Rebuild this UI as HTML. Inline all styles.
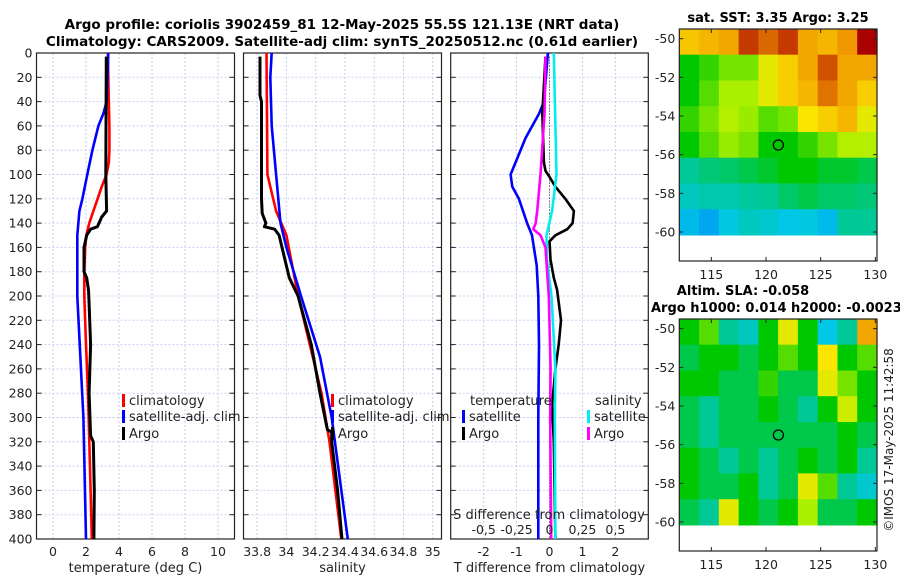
<!DOCTYPE html>
<html><head><meta charset="utf-8"><style>
body{margin:0;background:#fff;}
svg{display:block;font-family:"DejaVu Sans","Liberation Sans",sans-serif;}
</style></head><body>
<svg id="c" width="900" height="580" viewBox="0 0 900 580">
<text x="342" y="29" text-anchor="middle" font-size="13.5" font-weight="bold">Argo profile: coriolis 3902459_81 12-May-2025 55.5S 121.13E (NRT data)</text>
<text x="342" y="46" text-anchor="middle" font-size="13.5" font-weight="bold">Climatology: CARS2009. Satellite-adj clim: synTS_20250512.nc (0.61d earlier)</text>
<text x="778" y="22" text-anchor="middle" font-size="13" font-weight="bold">sat. SST: 3.35 Argo: 3.25</text>
<text x="743" y="295" text-anchor="middle" font-size="13" font-weight="bold">Altim. SLA: -0.058</text>
<text x="651" y="312" font-size="13" font-weight="bold">Argo h1000: 0.014 h2000: -0.0023</text>
<text transform="translate(893,440) rotate(-90)" text-anchor="middle" font-size="12" fill="#222">©IMOS 17-May-2025 11:42:58</text>
</svg>
<script>
// ---------- data ----------
const depthTicks=[0,20,40,60,80,100,120,140,160,180,200,220,240,260,280,300,320,340,360,380,400];
const tTicks=[0,2,4,6,8,10];
const sTicks=[33.8,34,34.2,34.4,34.6,34.8,35];
const sTickLabels=["33.8","34","34.2","34.4","34.6","34.8","35"];
const dTicks=[-2,-1,0,1,2];
const sdTicks=[-0.5,-0.25,0,0.25,0.5];
const sdTickLabels=["-0,5","-0,25","0","0,25","0,5"];

const climTDepth=[0,20,40,60,80,90,100,110,120,130,140,150,160,180,200,240,280,320,360,400];
const climT=[3.33,3.35,3.38,3.42,3.42,3.38,3.25,2.95,2.7,2.45,2.2,2.02,1.95,1.9,1.9,2.0,2.12,2.2,2.28,2.35];
const satTDepth=[0,40,50,60,80,100,120,130,150,200,300,400];
const satT=[3.35,3.25,3.05,2.75,2.39,2.08,1.78,1.6,1.47,1.47,1.84,2.0];
const argoTDepth=[3,100,130,135,143,145,150,160,180,185,195,200,240,280,315,320,360,400];
const argoT=[3.23,3.2,3.25,2.95,2.69,2.28,2.04,1.88,1.88,2.04,2.15,2.17,2.28,2.19,2.28,2.44,2.5,2.48];

const climSDepth=[0,100,130,150,200,280,320,400];
const climS=[33.864,33.87,33.93,34.0,34.08,34.24,34.295,34.375];
const satSDepth=[0,20,60,100,140,160,200,250,300,400];
const satS=[33.90,33.89,33.90,33.93,33.96,34.0,34.1,34.23,34.31,34.42];
const argoSDepth=[3,35,40,120,132,140,143,145,150,170,185,200,240,280,310,312,320,360,400];
const argoS=[33.82,33.82,33.83,33.83,33.835,33.86,33.85,33.92,33.95,33.99,34.02,34.08,34.17,34.23,34.28,34.31,34.31,34.35,34.38];

const dSatTDepth=[0,40,50,70,90,100,110,120,140,150,175,200,240,300,400];
const dSatT=[-0.05,-0.17,-0.32,-0.73,-1.03,-1.18,-1.13,-0.93,-0.68,-0.53,-0.39,-0.34,-0.32,-0.34,-0.34];
const dArgoTDepth=[3,50,90,97,102,110,120,130,140,145,150,155,170,185,195,220,240,260,290,320,400];
const dArgoT=[-0.12,-0.22,-0.17,-0.12,0,0.18,0.48,0.74,0.7,0.54,0.18,0,0.03,0.13,0.23,0.35,0.28,0.18,0.08,0.13,0.18];
const dSatSDepth=[0,100,130,150,170,200,260,300,400];
const dSatS=[0.033,0.053,0.02,-0.023,-0.02,0.015,0.045,0.04,0.045];
const dArgoSDepth=[3,50,100,130,140,145,150,160,180,200,260,300,340,400];
const dArgoS=[-0.03,-0.038,-0.068,-0.093,-0.105,-0.123,-0.068,-0.03,-0.018,-0.005,0.008,0.005,0.008,0.013];

const lonTicks=[115,120,125,130];
const latTicks=[-50,-52,-54,-56,-58,-60];
const sstGrid=[
[0.76,0.78,0.8,0.9,0.86,0.9,0.8,0.78,0.82,0.95],
[0.55,0.58,0.62,0.62,0.7,0.75,0.8,0.88,0.8,0.8],
[0.55,0.6,0.65,0.65,0.7,0.75,0.78,0.85,0.8,0.75],
[0.58,0.62,0.66,0.64,0.6,0.62,0.72,0.75,0.78,0.7],
[0.55,0.6,0.64,0.62,0.55,0.55,0.58,0.62,0.66,0.66],
[0.45,0.47,0.48,0.5,0.52,0.55,0.55,0.52,0.52,0.5],
[0.4,0.42,0.42,0.44,0.45,0.48,0.5,0.48,0.48,0.47],
[0.33,0.3,0.36,0.4,0.38,0.35,0.36,0.33,0.45,0.45]];
const slaGrid=[
[0.55,0.6,0.45,0.4,0.55,0.7,0.55,0.35,0.45,0.8],
[0.5,0.55,0.55,0.5,0.55,0.6,0.55,0.72,0.55,0.6],
[0.55,0.55,0.5,0.5,0.58,0.5,0.5,0.7,0.62,0.55],
[0.5,0.45,0.5,0.5,0.55,0.5,0.45,0.55,0.68,0.55],
[0.5,0.45,0.5,0.5,0.5,0.5,0.5,0.5,0.55,0.5],
[0.55,0.5,0.45,0.5,0.45,0.5,0.55,0.5,0.55,0.45],
[0.55,0.5,0.5,0.55,0.45,0.5,0.7,0.6,0.45,0.38],
[0.5,0.45,0.7,0.55,0.5,0.55,0.65,0.5,0.5,0.55]];
const argoLon=121.13, argoLat=-55.5;

// ---------- helpers ----------
const svg=document.getElementById('c');
const NS='http://www.w3.org/2000/svg';
function mk(tag,attrs,parent){const e=document.createElementNS(NS,tag);for(const k in attrs)e.setAttribute(k,attrs[k]);(parent||svg).appendChild(e);return e;}
const TOP=53,BOT=539;
const yD=d=>TOP+(d/400)*(BOT-TOP);

function panel(x0,x1,xmin,xmax,ticks,labels,name,xlabel,showY){
  const g=mk('g',{});
  
  
  const fx=v=>x0+(v-xmin)/(xmax-xmin)*(x1-x0);
  ticks.forEach((t,i)=>{
    const l=mk('line',{x1:fx(t),x2:fx(t),y1:TOP,y2:BOT,stroke:'#c9cdf2','stroke-dasharray':'2,2','stroke-width':1},g);
    
    
    const tx=mk('text',{x:fx(t),y:556,'text-anchor':'middle','font-size':12.5,fill:'#222'},g);
    
    
    tx.textContent=labels?labels[i]:String(t);
  });
  depthTicks.forEach(d=>{
    const l=mk('line',{x1:x0,x2:x1,y1:yD(d),y2:yD(d),stroke:'#c9cdf2','stroke-dasharray':'2,2','stroke-width':1},g);
    
    
    mk('line',{x1:x0,x2:x0+5,y1:yD(d),y2:yD(d),stroke:'#222'},g);
    mk('line',{x1:x1-5,x2:x1,y1:yD(d),y2:yD(d),stroke:'#222'},g);
    if(showY){
      const tx=mk('text',{x:x0-4,y:yD(d)+4.5,'text-anchor':'end','font-size':12.5,fill:'#222'},g);
      
      
      tx.textContent=String(d);
    }
  });
  const r=mk('rect',{x:x0,y:TOP,width:x1-x0,height:BOT-TOP,fill:'none',stroke:'#222','stroke-width':1.2},g);
  
  
  const xl=mk('text',{x:(x0+x1)/2,y:572,'text-anchor':'middle','font-size':13,fill:'#222'},g);
  
  
  xl.textContent=xlabel;
  return {g,fx,x0,x1};
}
function line(p,vals,depths,color,name,w){
  const pts=vals.map((v,i)=>p.fx(v).toFixed(1)+','+yD(depths[i]).toFixed(1)).join(' ');
  const e=mk('polyline',{points:pts,fill:'none',stroke:color,'stroke-width':w||2.6,'stroke-linejoin':'round'},p.g);
  
  
}
function legend(g,x,y,color,label,name){
  const m=mk('rect',{x:x,y:y-11,width:3,height:13,fill:color},g);
  
  
  const t=mk('text',{x:x+7,y:y,'font-size':13,fill:'#222'},g);
  
  
  t.textContent=label;
}

// panel 1 temperature
const p1=panel(36.5,234.5,-1,11,tTicks,null,'temperature-panel','temperature (deg C)',true);
line(p1,climT,climTDepth,'#f00','climatology-temp-line');
line(p1,satT,satTDepth,'#00f','satellite-temp-line');
line(p1,argoT,argoTDepth,'#000','argo-temp-line',3);
legend(p1.g,122,405,'#f00','climatology','legend-climatology');
legend(p1.g,122,421,'#00f','satellite-adj. clim','legend-satellite');
legend(p1.g,122,438,'#000','Argo','legend-argo');

// panel 2 salinity
const p2=panel(243.5,441.5,33.707,35.06,sTicks,sTickLabels,'salinity-panel','salinity',false);
line(p2,climS,climSDepth,'#f00','climatology-salinity-line');
line(p2,satS,satSDepth,'#00f','satellite-salinity-line');
line(p2,argoS,argoSDepth,'#000','argo-salinity-line',3);
legend(p2.g,331,405,'#f00','climatology','legend-climatology-s');
legend(p2.g,331,421,'#00f','satellite-adj. clim','legend-satellite-s');
legend(p2.g,331,438,'#000','Argo','legend-argo-s');

// panel 3 differences
const p3=panel(450.7,648.3,-3,3,dTicks,null,'difference-panel','T difference from climatology',false);
const z=mk('line',{x1:p3.fx(0),x2:p3.fx(0),y1:yD(3),y2:BOT,stroke:'#333','stroke-dasharray':'1,2','stroke-width':1},p3.g);


const fs=v=>v*4;
line(p3,dSatT,dSatTDepth,'#00f','satellite-temp-diff-line');
line(p3,dArgoT,dArgoTDepth,'#000','argo-temp-diff-line');
line(p3,dSatS.map(fs),dSatSDepth,'#0ee','satellite-salinity-diff-line');
line(p3,dArgoS.map(fs),dArgoSDepth,'#f0f','argo-salinity-diff-line');
const tt=mk('text',{x:470,y:405,'font-size':13,fill:'#222'},p3.g);


tt.textContent='temperature';
const st=mk('text',{x:595,y:405,'font-size':13,fill:'#222'},p3.g);


st.textContent='salinity';
legend(p3.g,462,421,'#00f','satellite','legend-temp-satellite');
legend(p3.g,462,438,'#000','Argo','legend-temp-argo');
legend(p3.g,587,421,'#0ee','satellite','legend-sal-satellite');
legend(p3.g,587,438,'#f0f','Argo','legend-sal-argo');
const sdt=mk('text',{x:549,y:519,'text-anchor':'middle','font-size':13,fill:'#222'},p3.g);


sdt.textContent='S difference from climatology';
sdTicks.forEach((s,i)=>{
  const t=mk('text',{x:p3.fx(fs(s)),y:534,'text-anchor':'middle','font-size':12.5,fill:'#222'},p3.g);
  
  
  t.textContent=sdTickLabels[i];
});

// ---------- maps ----------
const stops=[[0,[0,0,160]],[0.2,[0,100,255]],[0.35,[0,200,230]],[0.45,[0,200,150]],[0.55,[0,200,0]],[0.65,[170,240,0]],[0.72,[250,230,0]],[0.82,[240,150,0]],[0.95,[170,0,0]],[1,[130,0,0]]];
function cmap(v){
  for(let i=1;i<stops.length;i++){if(v<=stops[i][0]){const a=stops[i-1],b=stops[i];const t=(v-a[0])/(b[0]-a[0]);const c=a[1].map((x,k)=>Math.round(x+(b[1][k]-x)*t));return 'rgb('+c.join(',')+')';}}
  return 'rgb(130,0,0)';
}
function map(name,top,grid){
  const X0=679.3,X1=877,Y0=top,Y1=top+232;
  const lonMin=112.07,lonMax=130.15,latTop=-49.5,latBot=-61.5;
  const fx=l=>X0+(l-lonMin)/(lonMax-lonMin)*(X1-X0);
  const fy=l=>Y0+(latTop-l)/(latTop-latBot)*(Y1-Y0);
  const g=mk('g',{});
  
  
  const rows=grid.length,cols=grid[0].length;
  const lonA=112.07,lonB=130.15,latA=-49.5,latB=-60.15;
  grid.forEach((row,r)=>row.forEach((v,c)=>{
    const xa=fx(lonA+(lonB-lonA)*c/cols),xb=fx(lonA+(lonB-lonA)*(c+1)/cols);
    const ya=fy(latA+(latB-latA)*r/rows),yb=fy(latA+(latB-latA)*(r+1)/rows);
    const e=mk('rect',{x:xa.toFixed(1),y:ya.toFixed(1),width:(xb-xa+0.6).toFixed(1),height:(yb-ya+0.6).toFixed(1),fill:cmap(v)},g);
    
    
  }));
  const fr=mk('rect',{x:X0,y:Y0,width:X1-X0,height:Y1-Y0,fill:'none',stroke:'#222','stroke-width':1.2},g);
  
  
  lonTicks.forEach(l=>{
    mk('line',{x1:fx(l),x2:fx(l),y1:Y1,y2:Y1-4,stroke:'#222'},g);
    mk('line',{x1:fx(l),x2:fx(l),y1:Y0,y2:Y0+4,stroke:'#222'},g);
    const t=mk('text',{x:fx(l),y:Y1+18,'text-anchor':'middle','font-size':12.5,fill:'#222'},g);
    
    
    t.textContent=String(l);
  });
  latTicks.forEach(l=>{
    mk('line',{x1:X0,x2:X0+4,y1:fy(l),y2:fy(l),stroke:'#222'},g);
    mk('line',{x1:X1-4,x2:X1,y1:fy(l),y2:fy(l),stroke:'#222'},g);
    const t=mk('text',{x:X0-4,y:fy(l)+4.5,'text-anchor':'end','font-size':12.5,fill:'#222'},g);
    
    
    t.textContent=String(l);
  });
  const c=mk('circle',{cx:fx(argoLon),cy:fy(argoLat),r:5,fill:'none',stroke:'#000','stroke-width':1.3},g);
  
  
}
map('sst-map',29,sstGrid);
map('sla-map',319,slaGrid);
</script>
</body></html>
